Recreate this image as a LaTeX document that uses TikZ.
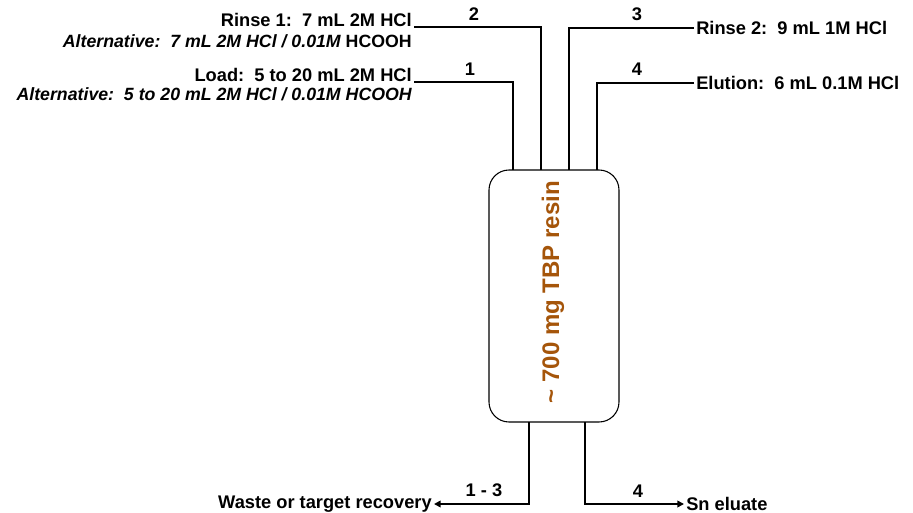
\documentclass[tikz,border=0pt]{standalone}
\usepackage{fontspec}
\setmainfont{Liberation Sans}
\usetikzlibrary{arrows.meta}
\definecolor{resinbrown}{RGB}{165,85,10}
\tikzset{
  lbl/.style={font=\fontsize{13.7}{16}\selectfont\bfseries, inner sep=1.5pt},
  altlbl/.style={lbl, font=\fontsize{13.3}{15}\selectfont\bfseries},
  num/.style={font=\fontsize{13.7}{16}\selectfont\bfseries, inner sep=0pt},
  pipe/.style={line width=1.2pt},
  outlet/.style={pipe, -{Triangle[length=5pt,width=5pt]}}
}
\begin{document}
\begin{tikzpicture}[x=0.75pt,y=-0.75pt]
\useasboundingbox (0,0) rectangle (913,513);
				% Column
				\node[draw, rounded corners=15pt, line width=0.8pt, minimum width=97.5pt, minimum height=189pt] (column) at (554,296) {};
				\node[rotate=90, text=resinbrown, font=\fontsize{18}{21}\selectfont\bfseries] (resin) at (553,292) {\textasciitilde\ 700 mg TBP resin};

				% Inlet ports
				\coordinate (port1) at (513,170);
				\coordinate (port2) at (541,170);
				\coordinate (port3) at (569,170);
				\coordinate (port4) at (597,170);

				% Left side solutions
				\node[lbl, anchor=base east] (rinse1) at (414,27) {Rinse 1:\ \ 7 mL 2M HCl};
				\node[altlbl, anchor=base east] (rinse1alt) at (414,48) {\itshape Alternative:\ \ 7 mL 2M HCl / 0.01M \upshape HCOOH};
				\node[lbl, anchor=base east] (load) at (414,82) {Load:\ \ 5 to 20 mL 2M HCl};
				\node[altlbl, anchor=base east] (loadalt) at (414,101) {\itshape Alternative:\ \ 5 to 20 mL 2M HCl / 0.01M HCOOH};

				% Right side solutions
				\node[lbl, anchor=west] (rinse2) at (694,28) {Rinse 2:\ \ 9 mL 1M HCl};
				\node[lbl, anchor=west] (elution) at (694,83) {Elution:\ \ 6 mL 0.1M HCl};

				% Feed lines
				\draw[pipe] (rinse1.base east) -| (port2);
				\draw[pipe] (load.base east) -| (port1);
				\draw[pipe] (rinse2.west) -| (port3);
				\draw[pipe] (elution.west) -| (port4);
				\node[num] (n2) at (474,14) {2};
				\node[num] (n1) at (470,69) {1};
				\node[num] (n3) at (637,14) {3};
				\node[num] (n4) at (637,69) {4};

				% Outlets
				\coordinate (out1) at (529,422);
				\coordinate (out2) at (585,422);
				\node[lbl, anchor=east] (waste) at (434,504) {Waste or target recovery};
				\node[lbl, anchor=west] (eluate) at (684,504) {Sn eluate};
				\draw[outlet] (out1) |- (waste.east);
				\draw[outlet] (out2) |- (eluate.west);
				\node[num] (n13) at (484,490) {1 - 3};
				\node[num] (n4b) at (638,491) {4};
\end{tikzpicture}
\end{document}
